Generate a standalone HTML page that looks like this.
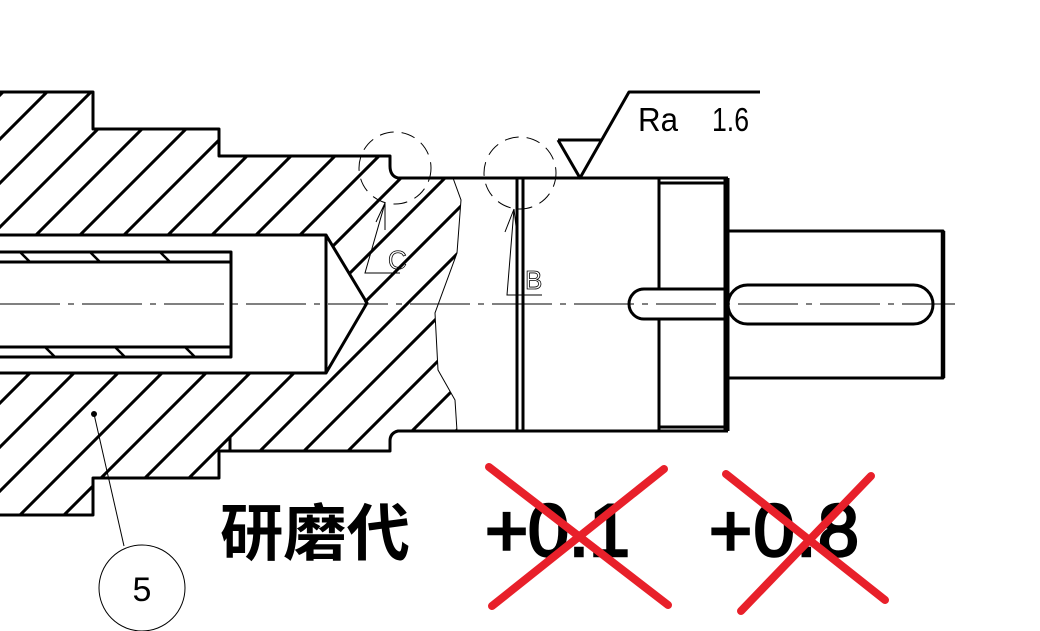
<!DOCTYPE html>
<html><head><meta charset="utf-8"><style>html,body{margin:0;padding:0;background:#fff}svg{display:block}</style></head>
<body>
<svg width="1040" height="631" viewBox="0 0 1040 631" xmlns="http://www.w3.org/2000/svg">
<defs>
<pattern id="h" patternUnits="userSpaceOnUse" width="44" height="44" x="7" y="0">
<path d="M0,44 L44,0 M-11,11 L11,-11 M33,55 L55,33" stroke="#000" stroke-width="3"/>
</pattern>
</defs>
<path fill="url(#h)" fill-rule="evenodd" d="M0,92 L93,92 L93,129 L219,129 L219,156 L390,156 L390,178 L453,178 L461,200 L457,253 L435,313 L438,370 L455,400 L457,431 L390,431 L390,451 L219,451 L219,478 L93,478 L93,515 L0,515 Z M0,235 L326,235 L365,303 L326,373 L0,373 Z"/>
<g fill="none" stroke="#000" stroke-width="3" stroke-linejoin="round">
<path d="M0,92 L93,92 L93,129 L219,129 L219,156 L390,156 L390,166 Q390,176 398,178 L728,178"/>
<path d="M0,515 L93,515 L93,478 L219,478 L219,451 L390,451 L390,441 Q390,433 398,431 L728,431"/>
<path d="M230,437 L230,451"/>
<path d="M0,235 L326,235 L326,373 L0,373"/>
<path d="M326,235 L367,303 L326,373"/>
<path d="M0,252 L231,252 L231,357 L0,357 M0,262 L231,262 M0,347 L231,347"/>
<path d="M20,252 L30,262 M90,252 L100,262 M160,252 L170,262 M45,347 L55,357 M115,347 L125,357 M185,347 L195,357" stroke-width="2.5"/>
<path d="M517,178 L517,431 M523,178 L523,431"/>
<path d="M659,178 L659,289 M659,319 L659,431"/>
<path d="M725,178 L725,431 M728,178 L728,431 M659,183 L725,183 M659,427 L725,427"/>
<path d="M728,231 L943,231 L943,378 L728,378"/>
<path d="M943,231 L943,378" stroke-width="4.5"/>
<path d="M728,289 L644,289 A15,15 0 0 0 644,319 L728,319"/>
<rect x="728" y="285" width="205" height="39" rx="19.5"/>
<path d="M558,140 L602,140 M558,140 L580,178 L629,92 L760,92"/>
</g>
<g fill="none" stroke="#000" stroke-width="1">
<path d="M0,304 L955,304" stroke-dasharray="60,8,6,8"/>
<path d="M453,178 L461,200 L457,253 L435,313 L438,370 L455,400 L457,431"/>
<circle cx="395" cy="168" r="36" stroke-dasharray="14,8"/>
<circle cx="520" cy="173" r="36" stroke-dasharray="14,8"/>
<path d="M385,203 L365,273 L400,273 M385,203 L385,230 M385,203 L376,222"/>
<path d="M514,209 L507,295 L542,295 M514,209 L517,235 M514,209 L505,232"/>
<path d="M94,414 L124,546"/>
<circle cx="142" cy="588" r="43"/>
</g>
<circle cx="94" cy="414" r="3" fill="#000"/>
<text x="388" y="269" font-family="Liberation Sans, sans-serif" font-size="26" fill="none" stroke="#000" stroke-width="0.8">C</text>
<text x="525" y="289" font-family="Liberation Sans, sans-serif" font-size="26" fill="none" stroke="#000" stroke-width="0.8">B</text>
<text x="638" y="131" font-family="Liberation Sans, sans-serif" font-size="33" textLength="40" lengthAdjust="spacingAndGlyphs">Ra</text>
<text x="712" y="131" font-family="Liberation Sans, sans-serif" font-size="33" textLength="37" lengthAdjust="spacingAndGlyphs">1.6</text>
<text x="142" y="601" text-anchor="middle" font-family="Liberation Sans, sans-serif" font-size="34">5</text>
<text x="220" y="555" font-family="Liberation Sans, 'Noto Sans CJK SC', sans-serif" font-size="62" font-weight="bold" textLength="190" lengthAdjust="spacingAndGlyphs">研磨代</text>
<g font-family="Liberation Sans, sans-serif" font-size="74" stroke="#000" stroke-width="2.5">
<text x="485" y="556" textLength="145" lengthAdjust="spacing">+0.1</text>
<text x="709" y="556" textLength="150" lengthAdjust="spacing">+0.8</text>
</g>
<g stroke="#e8202a" stroke-width="8" stroke-linecap="round">
<path d="M489,467 L668,605 M664,469 L492,606"/>
<path d="M726,474 L885,600 M871,476 L741,611"/>
</g>
</svg>
</body></html>
